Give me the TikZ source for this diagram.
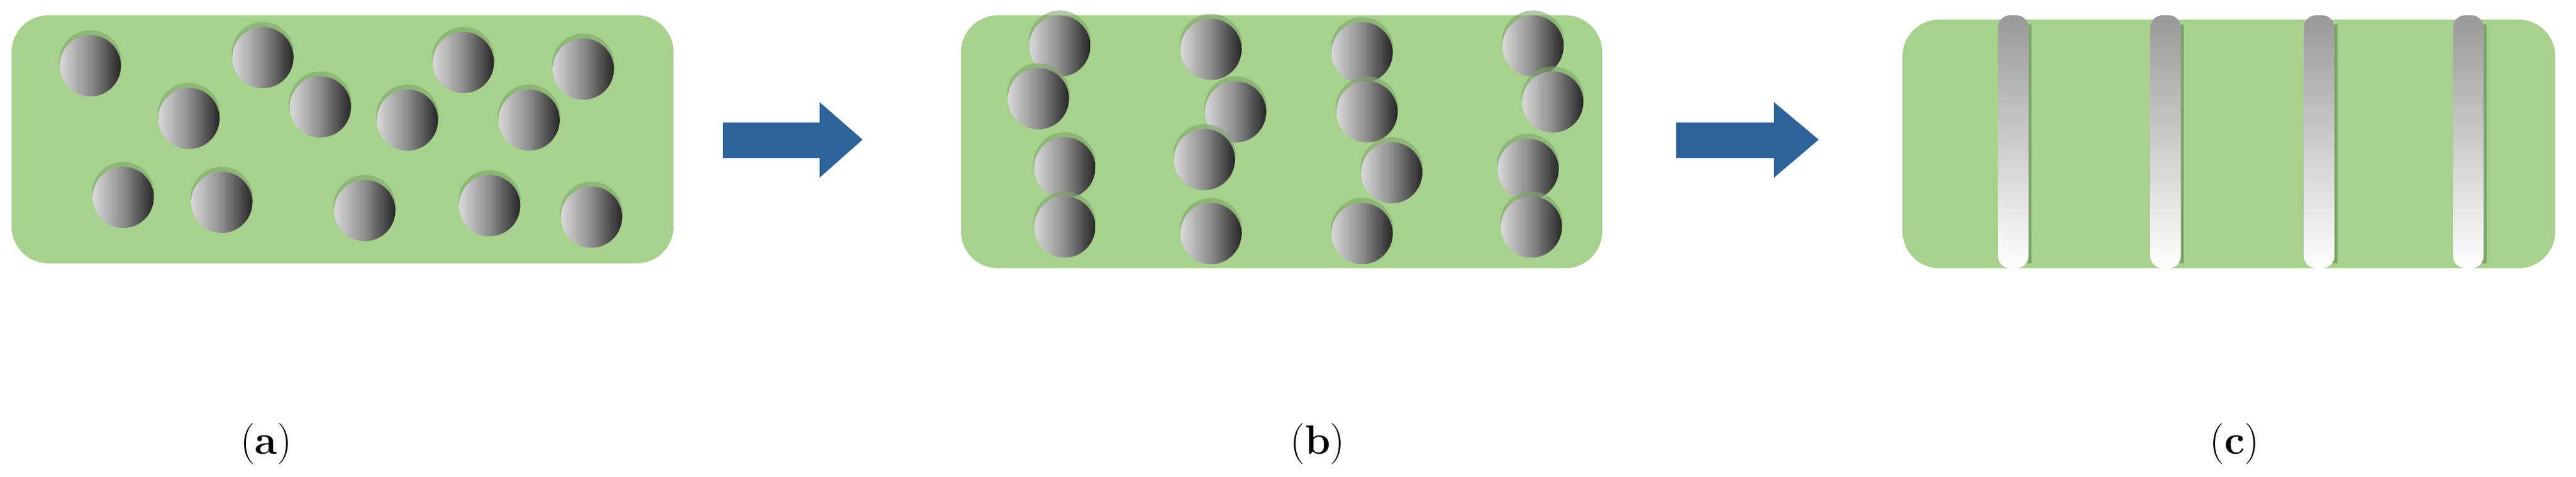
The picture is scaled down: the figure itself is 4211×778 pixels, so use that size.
\documentclass[tikz,border=0pt]{standalone}
\definecolor{pgreen}{RGB}{168,208,142}
\definecolor{sgreen}{RGB}{125,165,105}
\definecolor{ablue}{RGB}{46,99,153}
\begin{document}
\begin{tikzpicture}[x=0.01cm,y=-0.01cm,
  panel/.style={fill=pgreen, rounded corners=0.6cm},
  ball/.style={left color=gray!30, right color=black!85, middle color=gray!90, circle, minimum size=1cm, inner sep=0pt},
  ballshadow/.style={fill=sgreen, opacity=0.6, circle, minimum size=1.02cm, inner sep=0pt},
  rod/.style={top color=gray!80, bottom color=white, rounded corners=0.2cm},
  arr/.style={fill=ablue},
  lab/.style={font=\fontsize{19}{22}\selectfont}]
\useasboundingbox (0,0) rectangle (4211,778);
% panels
\fill[panel] (19,25) rectangle (1101,430);
\fill[panel] (1571,25) rectangle (2619,438);
\fill[panel] (3110,32) rectangle (4177,438);
% arrows
\fill[arr] (1182,200) -- (1340,200) -- (1340,167) -- (1410,228) -- (1340,290) -- (1340,258) -- (1182,258) -- cycle;
\fill[arr] (2740,200) -- (2900,200) -- (2900,167) -- (2973,228) -- (2900,290) -- (2900,258) -- (2740,258) -- cycle;
% balls
\foreach \n/\x/\y in {a1/55/40,a2/160/35,a3/282/38,a4/355/42,a5/115/72,a6/195/65,a7/248/73,a8/322/73,a9/75/120,a10/135/123,a11/222/128,a12/298/125,a13/360/132,
 b1/645/28,b2/632/60,b3/648/102,b4/648/138,b5/737/30,b6/752/68,b7/733/97,b8/737/142,b9/829/32,b10/832/68,b11/847/105,b12/829/142,b13/933/28,b14/945/62,b15/930/103,b16/932/138}{
  \node[ballshadow] at (\x*2.686,\y*2.686-7) {};
  \node[ball] (\n) at (\x*2.686,\y*2.686) {};
}
% rods
\foreach \n/\x in {r1/3291,r2/3540,r3/3791,r4/4035}{
  \fill[sgreen] (\x-14,40) rectangle (\x+30,430);
  \shade[rod] (\x-25,25) rectangle (\x+25,438);
  \coordinate (\n) at (\x,230);
}
% labels
\node[lab] (la) at (435,725) {(\textbf{a})};
\node[lab] (lb) at (2154,725) {(\textbf{b})};
\node[lab] (lc) at (3653,725) {(\textbf{c})};
\end{tikzpicture}
\end{document}
